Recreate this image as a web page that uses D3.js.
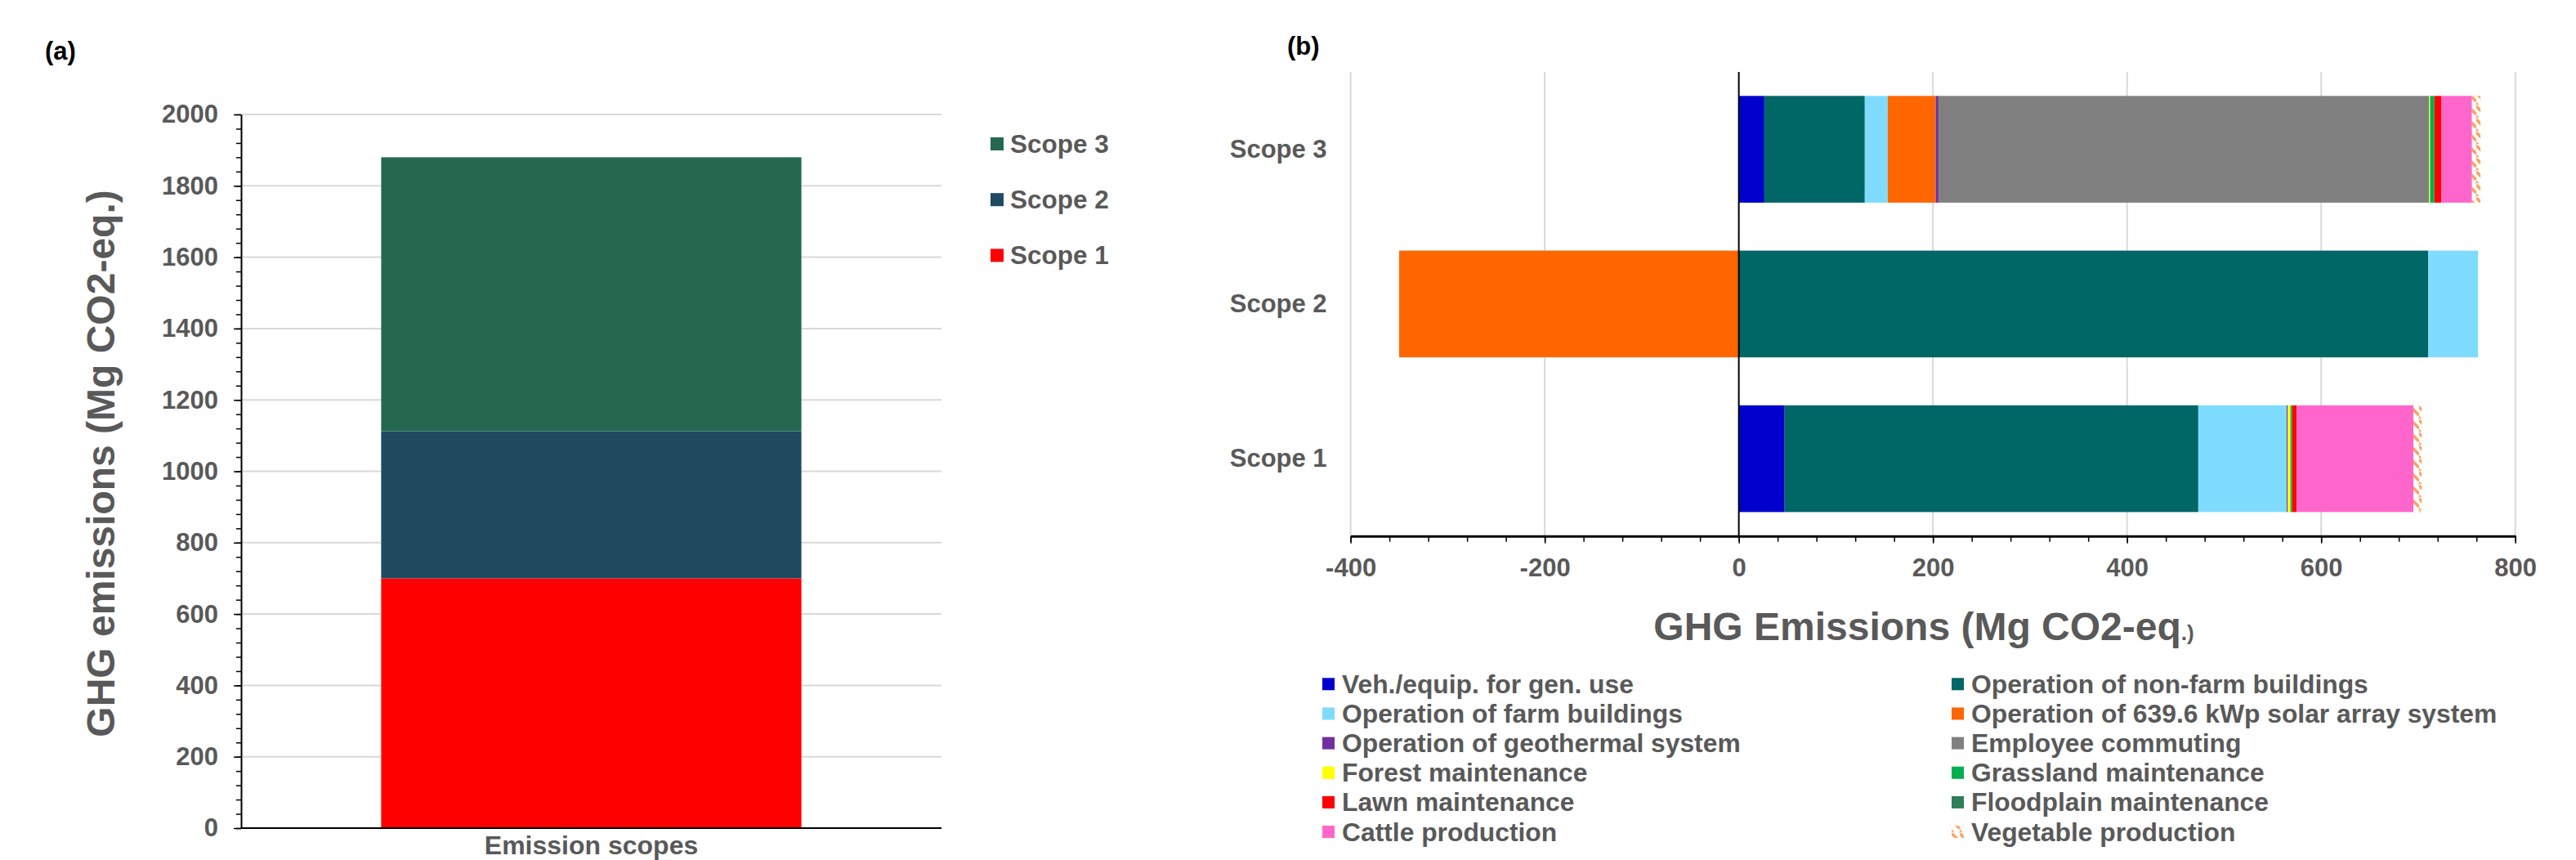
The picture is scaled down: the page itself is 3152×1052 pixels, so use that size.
<!DOCTYPE html>
<html>
<head>
<meta charset="utf-8">
<script src="https://cdn.jsdelivr.net/npm/d3@7"></script>
<style>
  body { margin: 0; background: #fff; }
  text { font-family: "Liberation Sans", Arial, sans-serif; font-weight: bold; }
</style>
</head>
<body>
<script>
var svgW = 3152;
var svgH = 1052;

// ---- panel (a): total per scope
var scopesA  = ["Scope 1", "Scope 2", "Scope 3"];
var totalsA  = [700, 412, 768];
var coloresA = ["#ff0000", "#1f4a60", "#256850"];
var ticksA   = d3.range(0, 2001, 200);

// ---- panel (b): contribution of each source, values as [Scope 1, Scope 2, Scope 3]
var scopesB = ["Scope 3", "Scope 2", "Scope 1"];
var fuentes = ["Veh./equip. for gen. use", "Operation of non-farm buildings",
               "Operation of farm buildings", "Operation of 639.6 kWp solar array system",
               "Operation of geothermal system", "Employee commuting",
               "Forest maintenance", "Grassland maintenance",
               "Lawn maintenance", "Floodplain maintenance",
               "Cattle production", "Vegetable production"];
var vehEquip    = [47.2,   0,    26.3];
var nonFarmBldg = [426.2, 710.4, 103.5];
var farmBldg    = [91.1,  51.3,  23.7];
var solarArray  = [0,    -350,   49.4];
var geothermal  = [1.1,    0,     2.8];
var commuting   = [0,      0,   505.5];
var forest      = [2.8,    0,     1.0];
var grassland   = [1.7,    0,     4.5];
var lawn        = [4.8,    0,     7.3];
var floodplain  = [0,      0,     0];
var cattle      = [120.1,  0,    31.4];
var vegetable   = [8.6,    0,     8.7];
var coloresB = ["#0000cc", "#006666", "#7fdbff", "#ff6600", "#7030a0", "#808080",
                "#ffff00", "#00b050", "#ff0000", "#2e7d5b", "#ff66cc", "url(#vegHatch)"];
var ticksB = d3.range(-400, 801, 200);

var gris = "#595959";
var grid = "#d9d9d9";
var plain = function(d) { return String(d); };   // "-400" with a hyphen, "2000" without comma

var svg = d3.select("body").append("svg")
            .attr("width", svgW)
            .attr("height", svgH);

svg.append("rect").attr("width", svgW).attr("height", svgH).attr("fill", "#fff");

var pat = svg.append("defs").append("pattern")
             .attr("id", "vegHatch")
             .attr("patternUnits", "userSpaceOnUse")
             .attr("width", 10)
             .attr("height", 16);
pat.append("rect").attr("width", 10).attr("height", 16).attr("fill", "#fff");
pat.append("path")
   .attr("d", "M0,2 L10,12 M-5,10 L5,20 M5,-6 L15,4")
   .attr("stroke", "#ffa060")
   .attr("stroke-width", 3.5);

// ================= panel (a)
var xA = d3.scaleBand().domain(["Emission scopes"]).range([295, 1152]).padding(0.25);
var yA = d3.scaleLinear().domain([0, 2000]).range([1013, 140]);

svg.append("text").attr("x", 55).attr("y", 73)
   .attr("font-size", 31).attr("fill", "#000").text("(a)");

svg.append("g").selectAll("line")
   .data(ticksA.filter(function(d) { return d > 0; }))
   .enter().append("line")
   .attr("x1", 295).attr("x2", 1152)
   .attr("y1", function(d) { return yA(d); })
   .attr("y2", function(d) { return yA(d); })
   .attr("stroke", grid).attr("stroke-width", 2);

var filaA = {};
scopesA.forEach(function(s, i) { filaA[s] = totalsA[i]; });
var pilaA = d3.stack().keys(scopesA)([filaA]);

svg.append("g").selectAll("rect")
   .data(pilaA)
   .enter().append("rect")
   .attr("x", xA("Emission scopes"))
   .attr("width", xA.bandwidth())
   .attr("y", function(d) { return yA(d[0][1]); })
   .attr("height", function(d) { return yA(d[0][0]) - yA(d[0][1]); })
   .attr("fill", function(d, i) { return coloresA[i]; });

var yAxisA = svg.append("g")
                .attr("transform", "translate(295,0)")
                .call(d3.axisLeft(yA).tickValues(ticksA).tickFormat(plain)
                        .tickSize(9).tickSizeOuter(0).tickPadding(19));
svg.append("g")
   .attr("transform", "translate(295,0)")
   .call(d3.axisLeft(yA).tickValues(d3.range(0, 2001, 40)).tickSize(6).tickSizeOuter(0).tickFormat(""))
   .select(".domain").remove();

var xAxisA = svg.append("g")
                .attr("transform", "translate(0,1013)")
                .call(d3.axisBottom(xA).tickSize(0).tickSizeOuter(0).tickPadding(9));
xAxisA.select(".domain").attr("d", "M295,0H1152");

[yAxisA, xAxisA].forEach(function(g) {
  g.select(".domain").attr("stroke", "#000").attr("stroke-width", 2);
});
yAxisA.selectAll("text").attr("font-size", 31).attr("fill", gris)
      .style("font-family", "'Liberation Sans', Arial, sans-serif").style("font-weight", "bold");
xAxisA.selectAll("text").attr("font-size", 32).attr("fill", gris)
      .style("font-family", "'Liberation Sans', Arial, sans-serif").style("font-weight", "bold");

svg.append("text")
   .attr("transform", "translate(140,567) rotate(-90)")
   .attr("text-anchor", "middle")
   .attr("font-size", 48).attr("fill", gris)
   .text("GHG emissions (Mg CO2-eq.)");

var legA = svg.append("g").selectAll("g")
              .data(scopesA.slice().reverse())
              .enter().append("g")
              .attr("transform", function(d, i) { return "translate(1212," + (176 + i * 68.2) + ")"; });
legA.append("rect").attr("x", 0).attr("y", -8).attr("width", 16).attr("height", 16)
    .attr("fill", function(d) { return coloresA[scopesA.indexOf(d)]; });
legA.append("text").attr("x", 24).attr("y", 11)
    .attr("font-size", 31.5).attr("fill", gris)
    .text(function(d) { return d; });

// ================= panel (b)
var xB = d3.scaleLinear().domain([-400, 800]).range([1652.6, 3077.7]);
var yB = d3.scaleBand().domain(scopesB).range([88, 655.7]).paddingInner(0.31).paddingOuter(0.155);

svg.append("text").attr("x", 1575).attr("y", 67)
   .attr("font-size", 31).attr("fill", "#000").text("(b)");

svg.append("g").selectAll("line")
   .data(ticksB.filter(function(d) { return d != 0; }))
   .enter().append("line")
   .attr("x1", function(d) { return xB(d); })
   .attr("x2", function(d) { return xB(d); })
   .attr("y1", 88).attr("y2", 655.7)
   .attr("stroke", grid).attr("stroke-width", 2);

var series = [vehEquip, nonFarmBldg, farmBldg, solarArray, geothermal, commuting,
              forest, grassland, lawn, floodplain, cattle, vegetable];
var filasB = [0, 1, 2].map(function(i) {
  var f = { scope: "Scope " + (i + 1) };
  fuentes.forEach(function(k, j) { f[k] = series[j][i]; });
  return f;
});
var pilaB = d3.stack().keys(fuentes).offset(d3.stackOffsetDiverging)(filasB);

svg.append("g").selectAll("g")
   .data(pilaB)
   .enter().append("g")
   .attr("fill", function(d, i) { return coloresB[i]; })
   .selectAll("rect")
   .data(function(d) { return d; })
   .enter().append("rect")
   .attr("x", function(d) { return xB(Math.min(d[0], d[1])); })
   .attr("width", function(d) { return Math.abs(xB(d[1]) - xB(d[0])); })
   .attr("y", function(d) { return yB(d.data.scope); })
   .attr("height", yB.bandwidth());

svg.append("line")
   .attr("x1", xB(0)).attr("x2", xB(0))
   .attr("y1", 88).attr("y2", 655.7)
   .attr("stroke", "#000").attr("stroke-width", 2);

var xAxisB = svg.append("g")
                .attr("transform", "translate(0,655.7)")
                .call(d3.axisBottom(xB).tickValues(ticksB).tickFormat(plain)
                        .tickSize(9).tickSizeOuter(0).tickPadding(18));
svg.append("g")
   .attr("transform", "translate(0,655.7)")
   .call(d3.axisBottom(xB).tickValues(d3.range(-400, 801, 40)).tickSize(7).tickSizeOuter(0).tickFormat(""))
   .select(".domain").remove();
xAxisB.select(".domain").attr("stroke", "#000").attr("stroke-width", 3);
xAxisB.selectAll("text").attr("font-size", 31).attr("fill", gris)
      .style("font-family", "'Liberation Sans', Arial, sans-serif").style("font-weight", "bold");

var yAxisB = svg.append("g")
                .attr("transform", "translate(1652.6,0)")
                .call(d3.axisLeft(yB).tickSize(0).tickPadding(29));
yAxisB.select(".domain").remove();
yAxisB.selectAll("text").attr("font-size", 31).attr("fill", gris)
      .style("font-family", "'Liberation Sans', Arial, sans-serif").style("font-weight", "bold");

svg.selectAll(".tick line").attr("stroke", "#000").attr("stroke-width", 1.5);

var tituloB = svg.append("text")
                 .attr("x", 2354).attr("y", 783)
                 .attr("text-anchor", "middle")
                 .attr("font-size", 48).attr("fill", gris);
tituloB.append("tspan").text("GHG Emissions (Mg CO2-eq");
tituloB.append("tspan").attr("font-size", 26).text(".)");

var legB = svg.append("g").selectAll("g")
              .data(fuentes)
              .enter().append("g")
              .attr("transform", function(d, i) {
                return "translate(" + (i % 2 ? 2388 : 1618) + "," + (836.8 + Math.floor(i / 2) * 36.15) + ")";
              });
legB.append("rect").attr("x", 0).attr("y", -7.5).attr("width", 15).attr("height", 15)
    .attr("fill", function(d, i) { return coloresB[i]; });
legB.append("text").attr("x", 24).attr("y", 11)
    .attr("font-size", 31.8).attr("fill", gris)
    .text(function(d) { return d; });
</script>
</body>
</html>
